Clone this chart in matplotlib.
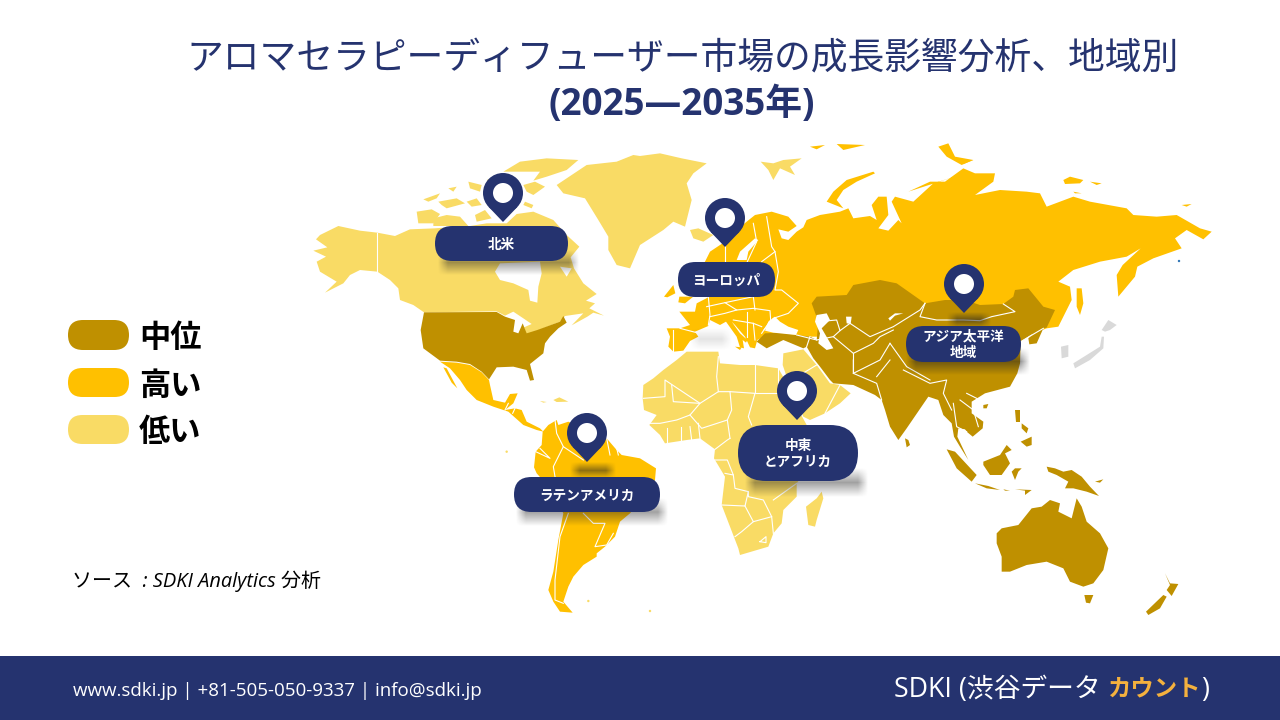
import matplotlib
matplotlib.use("Agg")
import matplotlib.pyplot as plt
import numpy as np
from matplotlib.patches import Circle, Polygon, FancyBboxPatch, Rectangle

plt.rcParams['font.family'] = ['Open Sans', 'Noto Sans CJK JP', 'DejaVu Sans']


def crop(ox, oy, pts):
    return [(ox + x / 3, oy + y / 3) for x, y in pts]


MID = '#BF9000'
HIGH = '#FFC000'
LOW = '#F9DB65'
NAVY = '#25336F'
JAPAN_GREY = '#D9D9D9'

TITLE_LINE1 = 'アロマセラピーディフューザー市場の成長影響分析、地域別'
TITLE_LINE2 = '(2025—2035年)'
SOURCE = 'ソース  : SDKI Analytics 分析'
CONTACT = 'www.sdki.jp | +81-505-050-9337 | info@sdki.jp'
LEGEND_LABELS = ['中位', '高い', '低い']
LEGEND_COLORS = [MID, HIGH, LOW]
LEGEND_Y = [335, 382.5, 429.5]
LEGEND_PILL_H = [30, 29, 29]

REGION_NAMES = ['北米', 'ヨーロッパ', 'アジア太平洋\n地域', 'ラテンアメリカ', '中東\nとアフリカ']
REGION_BOXES = [(435, 568, 226, 261), (678, 775, 262, 297), (906, 1021, 326, 362),
                (514, 660, 477, 512), (738, 858, 425, 481)]
REGION_PINS = [(503, 193), (725, 218), (964, 284), (587, 433), (797, 391)]
BOX_SHADOWS = [(438, 579, 250, 275, 0.42), (690, 732, 328, 350, 0.12), (906, 1030, 348, 375, 0.5),
               (516, 668, 498, 526, 0.42), (745, 868, 468, 497, 0.42)]
PIN_SHADOWS = [(947, 991, 312, 328, 0.55), (570, 616, 462, 479, 0.5)]

# low level countries
NORTH_AMERICA = crop(300, 140, [
    (40, 332), (82, 322), (48, 298), (60, 285), (115, 258), (180, 272), (232, 278), (285, 288), (330, 268),
    (405, 265), (510, 258), (560, 250), (620, 250), (650, 222), (700, 215), (760, 240), (800, 285), (838, 320),
    (812, 352), (822, 385), (850, 430), (890, 462), (858, 482), (885, 490), (868, 505), (912, 527), (880, 518),
    (862, 530), (815, 556), (850, 520), (795, 528), (780, 545), (712, 572), (680, 585), (672, 562), (695, 552),
    (670, 535), (640, 515), (615, 527), (590, 514), (372, 517), (340, 495), (300, 480), (295, 445), (270, 420),
    (232, 395), (180, 390), (150, 405), (130, 430), (75, 458), (110, 425), (60, 395), (50, 365), (78, 350)])
ARCTIC_ISLANDS = [
    crop(300, 140, pts) for pts in [
        [(610, 95), (660, 65), (740, 55), (835, 60), (800, 90), (740, 110), (700, 122), (720, 95), (650, 95)],
        [(670, 135), (705, 125), (735, 140), (700, 165), (680, 155)],
        [(370, 178), (420, 160), (410, 175), (385, 185)],
        [(415, 185), (470, 175), (495, 190), (440, 205), (425, 195)],
        [(445, 145), (470, 140), (460, 155)],
        [(505, 125), (545, 135), (540, 155), (510, 145)],
        [(350, 215), (395, 208), (420, 222), (400, 250), (355, 250)],
        [(400, 235), (440, 225), (480, 230), (505, 258), (400, 258)],
        [(525, 225), (555, 210), (575, 235), (530, 245)],
        [(675, 185), (700, 195), (695, 205), (670, 195)],
        [(560, 120), (600, 105), (620, 125), (580, 135)],
        [(500, 185), (530, 175), (545, 195), (515, 200)],
    ]]
GREENLAND = crop(300, 140, [(770, 135), (860, 75), (950, 65), (1000, 45), (1020, 48)]) + crop(640, 140, [
    (60, 40), (125, 55), (200, 70), (160, 100), (140, 130), (155, 180), (135, 260), (100, 245), (70, 270),
    (0, 315)]) + crop(300, 140, [(990, 385), (950, 375), (925, 330), (925, 290), (895, 240), (855, 175), (790, 160)])
ICELAND = crop(640, 140, [(150, 270), (175, 265), (220, 285), (190, 305), (160, 295)])
SVALBARD = crop(640, 140, [(362, 65), (400, 70), (430, 60), (485, 55), (450, 80), (465, 105), (420, 85), (400, 120),
                           (385, 90)])
AFRICA = crop(640, 360, [
    (8, 115), (10, 75), (40, 55), (70, 30), (110, 0), (140, -25), (235, -25), (240, 10), (300, 15), (345, 15),
    (415, 25), (435, 60), (470, 140), (500, 195), (560, 195), (600, 250), (500, 330), (470, 370), (470, 410),
    (430, 450), (425, 490), (400, 520), (385, 560), (300, 585), (295, 565), (270, 500), (245, 435), (255, 350),
    (222, 295), (225, 268), (180, 235), (140, 240), (75, 250), (60, 225), (28, 195), (50, 165), (12, 150)])
ARABIA = crop(640, 360, [(428, 15), (430, -20), (490, -32), (530, 15), (570, 70), (600, 75), (632, 100), (600, 130),
                         (555, 160), (510, 180), (490, 170), (465, 110), (440, 50)])
MADAGASCAR = crop(640, 360, [(545, 395), (550, 415), (530, 480), (525, 500), (505, 495), (498, 440), (530, 415)])
CUBA = crop(440, 380, [(300, 63), (320, 66), (310, 68)])
HISPANIOLA = crop(440, 380, [(340, 60), (358, 52), (385, 65), (350, 66)])

# high level countries
EUROPE_RUSSIA = crop(640, 140, [
    (85, 620), (90, 590), (80, 565), (120, 565), (150, 555), (118, 515), (165, 515), (170, 490), (205, 472),
    (120, 440), (195, 365), (210, 335), (255, 305), (290, 270), (320, 245), (345, 225), (395, 215), (445, 230),
    (470, 258), (445, 275), (415, 268), (425, 295), (445, 300), (470, 275), (490, 262), (500, 240), (540, 225),
    (600, 215), (625, 205), (640, 235), (690, 228), (710, 240), (695, 195), (715, 170), (740, 170), (745, 225),
    (715, 265), (745, 272), (775, 240), (785, 250), (755, 185), (765, 170), (820, 185), (880, 130), (960, 105)]) + crop(900, 160, [
    (25, 95), (90, 65), (135, 65), (190, 25), (225, 40), (285, 40), (280, 65), (225, 105), (300, 90), (380, 95),
    (420, 100), (440, 140), (520, 110), (570, 125), (680, 145), (700, 165), (770, 170), (830, 165), (900, 205),
    (935, 215), (910, 238), (860, 210), (825, 235), (845, 265), (760, 295), (712, 320), (705, 350), (655, 410),
    (650, 345), (668, 315), (722, 265), (680, 290), (600, 305), (520, 330), (475, 365), (510, 380), (515, 420),
    (475, 500), (440, 505), (300, 560), (0, 600)]) + crop(640, 140, [
    (530, 590), (475, 590), (400, 585), (370, 590), (352, 600), (345, 625), (330, 622), (315, 590), (285, 555),
    (275, 545), (300, 580), (322, 600), (318, 608), (308, 600), (312, 625), (300, 622), (290, 590), (258, 545),
    (240, 555), (210, 540), (205, 558), (165, 575), (175, 590), (150, 603), (130, 632), (100, 635)])
UK = crop(640, 140, [(118, 470), (160, 470), (135, 490), (115, 487)])
IRELAND = crop(640, 140, [(72, 470), (100, 435), (106, 460), (82, 472)])
SICILY = crop(640, 140, [(285, 620), (305, 622), (300, 630)])
NOVAYA_ZEMLYA = crop(640, 140, [(560, 185), (580, 155), (620, 120), (700, 95), (705, 100), (650, 125), (610, 150),
                                (590, 180), (610, 205)])
FRANZ_JOSEF = crop(640, 140, [(895, 20), (925, 10), (945, 50), (1000, 60), (965, 75), (920, 50)])
RUSSIA_ISLES = [crop(900, 160, pts) for pts in [
    [(490, 60), (510, 50), (550, 60), (540, 70), (495, 72)],
    [(570, 65), (605, 70), (590, 75)],
    [(845, 135), (875, 132), (860, 140)],
    [(520, 95), (545, 100), (525, 100)],
    [(175, 5), (220, 0), (190, 12)],
    [(530, 385), (545, 385), (550, 430), (540, 465), (530, 440)],
]] + [crop(640, 140, pts) for pts in [
    [(510, 20), (555, 15), (530, 28)],
    [(590, 12), (675, 15), (610, 30)],
]]
MEXICO_CENTRAL = crop(440, 380, [
    (0, -55), (50, -52), (90, -45), (125, -23), (147, 0), (150, 15), (160, 60), (195, 68), (210, 42), (233, 40),
    (220, 70), (195, 90), (225, 85), (245, 90), (260, 125), (300, 145), (310, 155), (290, 150), (250, 135),
    (205, 95), (160, 80), (110, 60), (80, 30), (60, 0), (30, -35), (15, -45)])
BAJA = crop(440, 380, [(10, -38), (20, -35), (52, 25), (35, 8)])
SOUTH_AMERICA = crop(440, 380, [
    (308, 155), (325, 135), (350, 120), (355, 135), (385, 125), (440, 150), (500, 175), (530, 210), (545, 225),
    (600, 235), (648, 265), (645, 300), (610, 350), (570, 400), (540, 425), (525, 470), (495, 500), (470, 520),
    (470, 530), (430, 555), (400, 590), (385, 620), (370, 665), (398, 698), (360, 695), (340, 665), (325, 630),
    (340, 575), (355, 480), (370, 400), (335, 330), (290, 280), (282, 262), (287, 215), (305, 195)])

# mid level countries
USA = crop(300, 140, [
    (372, 517), (590, 516), (615, 530), (645, 540), (640, 575), (655, 580), (668, 550), (680, 580), (712, 570),
    (780, 545), (790, 528), (800, 548), (775, 565), (750, 590), (735, 610), (730, 640), (690, 672), (702, 720),
    (690, 722), (680, 690), (640, 680), (590, 682), (567, 718), (545, 695), (510, 672), (470, 665), (420, 662),
    (370, 625), (362, 570)])
MAIN_ASIA = crop(640, 140, [
    (350, 605), (375, 580), (420, 578), (470, 585), (510, 590), (530, 600), (535, 545), (515, 490), (530, 470),
    (620, 465), (640, 435), (720, 420), (770, 430), (855, 490)]) + crop(900, 160, [
    (135, 420), (195, 420), (240, 435), (310, 432), (340, 410), (345, 390), (385, 385), (430, 440), (465, 450),
    (440, 503), (430, 505), (410, 550), (388, 553), (385, 535), (400, 520), (362, 545), (360, 610), (352, 640),
    (330, 680)]) + crop(900, 400, [
    (255, -20), (215, 5), (215, 40), (250, 65), (248, 85), (218, 110), (200, 95), (195, 88), (175, 85), (172, 110),
    (205, 180), (180, 140), (162, 110), (155, 70), (130, 45), (115, 0)]) + crop(640, 360, [
    (865, 110), (800, 205), (775, 240), (750, 200), (735, 150), (725, 120), (705, 105), (640, 75), (580, 70),
    (570, 60), (540, 20), (520, -5), (500, -40), (490, -35), (430, -60), (380, -35)])
SE_ASIA_ISLES = [crop(900, 400, pts) for pts in [
    [(140, 148), (165, 155), (230, 225), (215, 245), (170, 205)],
    [(225, 250), (265, 258), (300, 270), (260, 265)],
    [(310, 268), (330, 272), (315, 272)],
    [(345, 268), (395, 270), (375, 285), (375, 272)],
    [(250, 185), (300, 165), (320, 135), (335, 150), (315, 160), (330, 190), (305, 225), (270, 225), (250, 195)],
    [(345, 205), (365, 205), (355, 215), (345, 240), (335, 215)],
    [(345, 30), (360, 30), (360, 65), (348, 65)],
    [(365, 70), (385, 85), (380, 100), (365, 85)],
    [(362, 125), (395, 110), (395, 135), (380, 140)],
    [(440, 200), (465, 205), (490, 215), (515, 210), (545, 230), (570, 260), (597, 288), (560, 275), (520, 265),
     (495, 265), (505, 245), (470, 225), (445, 215)],
    [(585, 245), (610, 238), (600, 248)],
    [(15, 115), (25, 120), (30, 135), (20, 142)],
    [(250, 15), (265, 12), (260, 25), (250, 25)],
]]
AUSTRALIA = crop(900, 400, [
    (290, 400), (305, 385), (355, 375), (395, 325), (425, 320), (450, 300), (480, 310), (475, 335), (515, 355),
    (530, 295), (545, 320), (560, 365), (600, 400), (625, 445), (610, 510), (580, 550), (550, 560), (510, 545),
    (490, 505), (440, 485), (380, 495), (330, 515), (305, 515), (305, 470), (290, 430)])
TASMANIA = crop(900, 400, [(553, 585), (580, 585), (570, 610), (558, 608)])
NZ_SOUTH = crop(900, 400, [(738, 635), (790, 585), (800, 590), (780, 625), (745, 645)])
NZ_NORTH = crop(900, 400, [(795, 520), (810, 550), (835, 552), (815, 588), (800, 570), (810, 555)])

# grey, no data
JAPAN = [crop(900, 160, pts) for pts in [
    [(520, 610), (560, 585), (600, 560), (605, 530), (612, 530), (610, 565), (570, 600), (525, 625)],
    [(605, 510), (625, 480), (650, 495), (630, 510), (615, 515)],
    [(483, 560), (505, 555), (505, 590), (485, 595)],
]]

# water on top of the land
SEAS = [crop(300, 140, pts) for pts in [
    [(585, 395), (600, 370), (720, 365), (725, 400), (715, 440), (712, 488), (690, 482), (685, 450), (640, 430),
     (600, 420)],
    [(780, 380), (815, 385), (800, 410)],
]] + [crop(640, 140, pts) for pts in [
    [(375, 572), (385, 545), (405, 530), (420, 545), (445, 560), (475, 570), (468, 585), (400, 578)],
    [(525, 545), (530, 525), (560, 520), (570, 540), (545, 565), (580, 625), (560, 630), (535, 610), (540, 580)],
    [(290, 360), (300, 335), (345, 295), (355, 300), (325, 335), (320, 360)],
    [(618, 530), (635, 530), (632, 552), (620, 550)],
    [(745, 535), (765, 520), (790, 520), (765, 527), (750, 542)],
]]

BORDERS = [crop(300, 140, [(232, 278), (232, 395)])] + [crop(440, 380, pts) for pts in [
    [(385, 400), (360, 470), (345, 600), (345, 660), (370, 670)],
    [(430, 400), (460, 430), (495, 430), (465, 500), (500, 495), (520, 460)],
    [(345, 120), (350, 160), (370, 200), (340, 260), (345, 290)],
    [(287, 215), (330, 235), (300, 205)],
    [(370, 200), (430, 240)],
    [(500, 175), (510, 225)],
    [(530, 205), (535, 225)],
    [(195, 90), (205, 70)],
    [(225, 85), (218, 100)],
]] + [crop(640, 360, pts) for pts in [
    [(10, 115), (75, 110), (75, 60), (180, 130), (235, 95), (270, 95), (275, 150), (262, 180), (270, 235)],
    [(235, 95), (230, 50), (235, -10)],
    [(345, 15), (345, 100), (420, 100)],
    [(270, 95), (345, 100), (325, 170), (335, 195)],
    [(95, 75), (100, 125), (180, 130), (150, 165), (110, 180), (60, 190), (30, 190)],
    [(150, 165), (185, 205), (262, 180)],
    [(80, 205), (80, 245)], [(122, 200), (122, 245)], [(150, 200), (155, 240)], [(175, 190), (180, 235)],
    [(225, 268), (262, 240), (270, 235)],
    [(225, 300), (262, 300), (280, 345), (255, 340)],
    [(245, 435), (315, 438), (325, 395), (285, 385), (280, 345)],
    [(325, 395), (325, 410), (370, 420), (395, 470), (340, 485), (315, 438)],
    [(340, 485), (305, 515), (285, 530)],
    [(360, 545), (378, 530), (378, 548), (360, 545)],
    [(395, 470), (400, 520)],
    [(400, 420), (470, 370)],
    [(415, 25), (415, 100)],
    [(600, 75), (555, 160)],
    [(480, 45), (530, 15)],
    [(640, 0), (640, 40), (710, 70), (725, 120)],
    [(750, 0), (710, 50)],
    [(790, 30), (870, 70), (920, 60), (910, 100), (935, 150)],
    [(940, 130), (950, 200), (980, 215)],
    [(960, 120), (1000, 150), (1015, 200)],
    [(980, 100), (1020, 120)],
]] + [crop(640, 140, pts) for pts in [
    [(255, 310), (255, 365)],
    [(340, 250), (350, 305), (322, 365)],
    [(380, 230), (395, 320), (405, 335), (365, 365)],
    [(405, 335), (415, 395), (405, 450), (425, 450), (475, 490), (445, 520), (400, 535), (372, 570)],
    [(205, 470), (210, 525), (205, 555)],
    [(200, 500), (255, 488), (340, 470), (345, 510)],
    [(255, 488), (290, 510), (340, 505), (390, 512), (392, 540), (365, 580)],
    [(210, 530), (255, 520), (290, 510)],
    [(320, 515), (320, 590)],
    [(280, 540), (340, 550), (365, 560)],
    [(340, 550), (345, 600)],
    [(100, 570), (100, 632)],
    [(120, 565), (170, 578)],
    [(470, 585), (530, 600)],
    [(510, 590), (500, 620)],
    [(535, 545), (590, 540), (600, 572), (630, 550), (690, 590), (760, 560), (840, 510), (855, 490)],
    [(530, 600), (580, 590), (640, 640), (700, 610), (720, 590), (760, 570)],
    [(640, 640), (640, 700)],
    [(600, 572), (580, 590)],
    [(640, 700), (720, 660), (750, 610)],
    [(750, 610), (800, 680), (870, 720)],
]] + [crop(900, 160, pts) for pts in [
    [(75, 430), (60, 470), (110, 480), (190, 480), (240, 482), (275, 470), (345, 455), (310, 432)],
    [(430, 505), (362, 545)],
]]

SMALL_ISLES = crop(440, 380, [(445, 663), (630, 693), (200, 215)])


def pill(ax, x0, x1, y0, y1, color, zorder=6):
    r = min((y1 - y0) / 2, (x1 - x0) / 2)
    ax.add_patch(FancyBboxPatch((x0 + r, y0 + r), x1 - x0 - 2 * r, y1 - y0 - 2 * r,
                                boxstyle=f'round,pad={r},rounding_size={r}',
                                fc=color, ec='none', zorder=zorder))


def soft_shadow(ax, x0, x1, y0, y1, strength):
    # blurred box, fades out over a few pixels at each edge
    xs = np.arange(x0, x1) + 0.5
    ys = np.arange(y0, y1) + 0.5
    fade_x = np.clip(np.minimum(xs - x0, x1 - xs) / 10, 0, 1)
    fade_y = np.clip(np.minimum(ys - y0, y1 - ys) / ((y1 - y0) / 2), 0, 1)
    rgba = np.zeros((len(ys), len(xs), 4))
    rgba[..., :3] = 0.13
    rgba[..., 3] = strength * np.outer(fade_y, fade_x)
    ax.imshow(rgba, extent=(x0, x1, y1, y0), aspect='auto', interpolation='bilinear', zorder=4)


def pin(ax, cx, cy, radius=20, inner=10, length=29):
    tip = (cx, cy + length)
    side = radius * (1 - (radius / length) ** 2) ** 0.5
    drop = radius ** 2 / length
    ax.add_patch(Polygon([(cx - side, cy + drop), (cx + side, cy + drop), tip], fc=NAVY, ec='none', zorder=5))
    ax.add_patch(Circle((cx, cy), radius, fc=NAVY, ec='none', zorder=5))
    ax.add_patch(Circle((cx, cy), inner, fc='white', ec='none', zorder=6))


fig = plt.figure(figsize=(12.8, 7.2), dpi=100)
ax = fig.add_axes([0, 0, 1, 1])

low_shapes = [NORTH_AMERICA, GREENLAND, ICELAND, SVALBARD, AFRICA, ARABIA, MADAGASCAR, CUBA, HISPANIOLA] + ARCTIC_ISLANDS
high_shapes = [EUROPE_RUSSIA, UK, IRELAND, SICILY, NOVAYA_ZEMLYA, FRANZ_JOSEF, MEXICO_CENTRAL, BAJA,
               SOUTH_AMERICA] + RUSSIA_ISLES
mid_shapes = [USA, MAIN_ASIA, AUSTRALIA, TASMANIA, NZ_SOUTH, NZ_NORTH] + SE_ASIA_ISLES

for shapes, color in [(low_shapes, LOW), (high_shapes, HIGH), (mid_shapes, MID), (JAPAN, JAPAN_GREY)]:
    for pts in shapes:
        ax.add_patch(Polygon(pts, closed=True, fc=color, ec='none', zorder=2))
for pts in SEAS:
    ax.add_patch(Polygon(pts, closed=True, fc='white', ec='none', zorder=3))
for pts in BORDERS:
    xs, ys = zip(*pts)
    ax.plot(xs, ys, color='white', lw=0.8, solid_joinstyle='round', zorder=3)
for x, y in SMALL_ISLES:
    ax.add_patch(Circle((x, y), 1.2, fc=LOW, ec='none', zorder=2))
ax.add_patch(Circle((1179, 261), 1.2, fc='#2E75B6', ec='none', zorder=2))

for box in BOX_SHADOWS + PIN_SHADOWS:
    soft_shadow(ax, *box)

for (x0, x1, y0, y1), name, (px, py) in zip(REGION_BOXES, REGION_NAMES, REGION_PINS):
    pin(ax, px, py)
    pill(ax, x0, x1, y0, y1, NAVY)
    ax.text((x0 + x1) / 2, (y0 + y1) / 2 + 1, name, color='white', fontsize=9.8, fontweight='bold',
            ha='center', va='center', linespacing=1.25, zorder=7)

ax.text(683, 60, TITLE_LINE1, color=NAVY, fontsize=26.5, ha='center', va='center', zorder=7)
ax.text(682, 105, TITLE_LINE2, color=NAVY, fontsize=26.5, fontweight='bold', ha='center', va='center', zorder=7)

for label, color, y, h in zip(LEGEND_LABELS, LEGEND_COLORS, LEGEND_Y, LEGEND_PILL_H):
    pill(ax, 68, 129, y - h / 2, y + h / 2, color)
    ax.text(139, y + 4, label, color='black', fontsize=22.5, fontweight='bold', ha='left', va='center', zorder=7)

ax.text(72, 581, SOURCE, color='black', fontsize=14.4, style='italic', ha='left', va='center', zorder=7)

ax.add_patch(Rectangle((0, 656), 1280, 64, fc=NAVY, ec='none', zorder=5))
ax.text(73, 691, CONTACT, color='white', fontsize=13.5, ha='left', va='center', zorder=7)
ax.text(894, 690, 'SDKI (渋谷データ', color='white', fontsize=19.3, ha='left', va='center', zorder=7)
ax.text(1107, 689, 'カウント', color='#F4B13E', fontsize=16.8, fontweight='bold', ha='left', va='center', zorder=7)
ax.text(1201, 690, ')', color='white', fontsize=19.3, ha='left', va='center', zorder=7)

ax.set_xlim(0, 1280)
ax.set_ylim(720, 0)
ax.axis('off')

fig.savefig('out.png', dpi=100)
